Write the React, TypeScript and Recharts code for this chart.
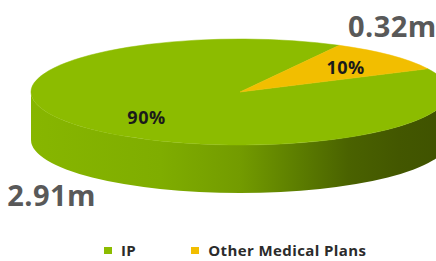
import React from 'react';
import { PieChart, Pie, Cell, Legend } from 'recharts';

const categories = ['IP', 'Other Medical Plans'];
const values = [2.91, 0.32];
const valueLabels = ['2.91m', '0.32m'];
const colors = ['#8CBC00', '#F2BE00'];

const data = categories.map((name, i) => ({ name, value: values[i], label: valueLabels[i] }));

const W = 436;
const H = 261;
const CX = 240;
const CY = 92;
const RX = 209;
const RATIO = 53 / 209;
const DEPTH = 48;
const START = 26;
const FONT = '"Open Sans", "DejaVu Sans", sans-serif';

const RAD = Math.PI / 180;
const pt = (cx: number, cy: number, rx: number, ry: number, a: number) => [
  cx + rx * Math.cos(a * RAD),
  cy - ry * Math.sin(a * RAD),
];

const TopShape = (props: any) => {
  const { cx, cy, outerRadius, startAngle, endAngle, fill } = props;
  const rx = outerRadius;
  const ry = outerRadius * RATIO;
  const [x1, y1] = pt(cx, cy, rx, ry, startAngle);
  const [x2, y2] = pt(cx, cy, rx, ry, endAngle);
  const large = Math.abs(endAngle - startAngle) > 180 ? 1 : 0;
  const sweep = startAngle > endAngle ? 1 : 0;
  const d = `M${cx},${cy} L${x1},${y1} A${rx},${ry} 0 ${large} ${sweep} ${x2},${y2} Z`;
  return <path d={d} fill={fill} stroke={fill} strokeWidth={0.5} />;
};

const SideShape = (props: any) => {
  const { cx, cy, outerRadius, startAngle, endAngle } = props;
  const rx = outerRadius;
  const ry = outerRadius * RATIO;
  const lo = Math.min(startAngle, endAngle);
  const hi = Math.max(startAngle, endAngle);
  const paths: string[] = [];
  for (let k = -3; k <= 3; k++) {
    const a = Math.max(lo, 180 + 360 * k);
    const b = Math.min(hi, 360 + 360 * k);
    if (b > a) {
      const [ax, ay] = pt(cx, cy, rx, ry, a);
      const [bx, by] = pt(cx, cy, rx, ry, b);
      paths.push(
        `M${ax},${ay} A${rx},${ry} 0 0 0 ${bx},${by} L${bx},${by + DEPTH} A${rx},${ry} 0 0 1 ${ax},${ay + DEPTH} Z`
      );
    }
  }
  return (
    <g>
      {paths.map((d, i) => (
        <path key={i} d={d} fill="url(#sideGrad)" />
      ))}
    </g>
  );
};

const INNER_FACTORS = [0.62, 0.7];

const renderInner = (props: any) => {
  const { cx, cy, outerRadius, midAngle, percent, index } = props;
  const f = INNER_FACTORS[index];
  const [x, y] = pt(cx, cy, outerRadius * f, outerRadius * RATIO * 0.68, midAngle);
  return (
    <text
      x={x}
      y={y}
      textAnchor="middle"
      dominantBaseline="central"
      fill="#1a1a1a"
      style={{ fontFamily: FONT, fontWeight: 700, fontSize: 18, letterSpacing: 0.5 }}
    >
      {`${Math.round(percent * 100)}%`}
    </text>
  );
};

const OUTER_FACTORS = [
  [1.25, 2.8],
  [1.01, 1.82],
];

const renderOuter = (props: any) => {
  const { cx, cy, outerRadius, midAngle, index, payload } = props;
  const [fx, fy] = OUTER_FACTORS[index];
  const [x, y] = pt(cx, cy, outerRadius * fx, outerRadius * RATIO * fy, midAngle);
  return (
    <text
      x={x}
      y={y}
      textAnchor="middle"
      dominantBaseline="central"
      fill="#595959"
      style={{ fontFamily: FONT, fontWeight: 700, fontSize: 29, letterSpacing: 0.4 }}
    >
      {payload.label}
    </text>
  );
};

const LegendContent = (props: any) => {
  const { payload } = props;
  const seen = new Set<string>();
  const items = (payload || []).filter((p: any) => {
    if (!categories.includes(p.value) || seen.has(p.value)) return false;
    seen.add(p.value);
    return true;
  });
  return (
    <div style={{ display: 'flex', paddingLeft: 104, fontFamily: FONT, fontWeight: 700, fontSize: 15, letterSpacing: 0.4, color: '#2b2b2b', whiteSpace: 'nowrap', lineHeight: '18px' }}>
      {items.map((p: any, i: number) => (
        <div key={i} style={{ display: 'flex', alignItems: 'center', marginRight: i === 0 ? 55 : 0 }}>
          <span style={{ width: 8, height: 7, background: colors[categories.indexOf(p.value)], display: 'inline-block', marginRight: 9 }} />
          <span>{p.value}</span>
        </div>
      ))}
    </div>
  );
};

export default function App() {
  return (
    <div style={{ position: 'absolute', left: 0, top: 0, width: W, height: H, background: '#fff', overflow: 'hidden' }}>
      <PieChart width={W} height={H} margin={{ top: 0, right: 0, bottom: 0, left: 0 }}>
        <defs>
          <linearGradient id="sideGrad" gradientUnits="userSpaceOnUse" x1={CX - RX} y1={0} x2={CX + RX} y2={0}>
            <stop offset="0" stopColor="#87b600" />
            <stop offset="0.31" stopColor="#7fad00" />
            <stop offset="0.5" stopColor="#739b00" />
            <stop offset="0.64" stopColor="#5c7d00" />
            <stop offset="0.76" stopColor="#4a6200" />
            <stop offset="0.88" stopColor="#435700" />
            <stop offset="1" stopColor="#3f5200" />
          </linearGradient>
        </defs>
        <Pie
          data={data}
          dataKey="value"
          nameKey="name"
          cx={CX}
          cy={CY}
          outerRadius={RX}
          startAngle={START}
          endAngle={START - 360}
          shape={SideShape}
          isAnimationActive={false}
          legendType="none"
          label={false}
          labelLine={false}
        >
          {data.map((d, i) => (
            <Cell key={i} fill={colors[i]} />
          ))}
        </Pie>
        <Pie
          data={data}
          dataKey="value"
          nameKey="name"
          cx={CX}
          cy={CY}
          outerRadius={RX}
          startAngle={START}
          endAngle={START - 360}
          shape={TopShape}
          isAnimationActive={false}
          label={renderInner}
          labelLine={false}
        >
          {data.map((d, i) => (
            <Cell key={i} fill={colors[i]} />
          ))}
        </Pie>
        <Pie
          data={data}
          dataKey="value"
          nameKey="name"
          cx={CX}
          cy={CY}
          outerRadius={RX}
          startAngle={START}
          endAngle={START - 360}
          shape={() => <g />}
          isAnimationActive={false}
          legendType="none"
          label={renderOuter}
          labelLine={false}
        />
        <Legend
          verticalAlign="bottom"
          align="left"
          wrapperStyle={{ top: 241, left: 0, bottom: 'auto', width: W }}
          content={<LegendContent />}
        />
      </PieChart>
    </div>
  );
}
